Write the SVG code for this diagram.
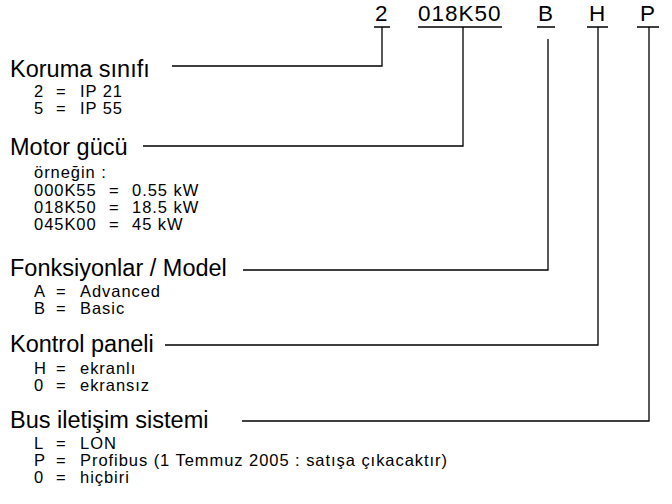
<svg xmlns="http://www.w3.org/2000/svg" width="672" height="504" viewBox="0 0 672 504">
<style>
text{font-family:"Liberation Sans",Arial,sans-serif;fill:#000}
.h{font-size:23.5px}
.c{font-size:22.5px;letter-spacing:1px}
.s{font-size:16.5px;letter-spacing:0.95px}
.ln{fill:none;stroke:#000;stroke-width:1.3}
</style>
<rect width="672" height="504" fill="#fff"/>
<g id="code">
<text class="c" x="375" y="21">2</text>
<text class="c" x="418" y="21">018K50</text>
<text class="c" x="538" y="21">B</text>
<text class="c" x="589" y="21">H</text>
<text class="c" x="640" y="21">P</text>
</g>
<g id="koruma">
<text class="h" x="10" y="77">Koruma sınıfı</text>
<text class="s" y="97"><tspan x="34">2</tspan><tspan x="56">=</tspan><tspan x="80">IP 21</tspan></text>
<text class="s" y="114"><tspan x="34">5</tspan><tspan x="56">=</tspan><tspan x="80">IP 55</tspan></text>
</g>
<g id="motor">
<text class="h" x="10" y="155">Motor gücü</text>
<text class="s" x="34" y="178">örneğin :</text>
<text class="s" y="196"><tspan x="34">000K55</tspan><tspan x="109">=</tspan><tspan x="132">0.55 kW</tspan></text>
<text class="s" y="213"><tspan x="34">018K50</tspan><tspan x="109">=</tspan><tspan x="132">18.5 kW</tspan></text>
<text class="s" y="230"><tspan x="34">045K00</tspan><tspan x="109">=</tspan><tspan x="132">45 kW</tspan></text>
</g>
<g id="model">
<text class="h" x="10" y="276">Fonksiyonlar / Model</text>
<text class="s" y="297"><tspan x="34">A</tspan><tspan x="56">=</tspan><tspan x="80">Advanced</tspan></text>
<text class="s" y="314"><tspan x="34">B</tspan><tspan x="56">=</tspan><tspan x="80">Basic</tspan></text>
</g>
<g id="kontrol">
<text class="h" x="10" y="352">Kontrol paneli</text>
<text class="s" y="374"><tspan x="34">H</tspan><tspan x="56">=</tspan><tspan x="80">ekranlı</tspan></text>
<text class="s" y="391"><tspan x="34">0</tspan><tspan x="56">=</tspan><tspan x="80">ekransız</tspan></text>
</g>
<g id="bus">
<text class="h" x="10" y="428">Bus iletişim sistemi</text>
<text class="s" y="449"><tspan x="34">L</tspan><tspan x="56">=</tspan><tspan x="80">LON</tspan></text>
<text class="s" y="466"><tspan x="34">P</tspan><tspan x="56">=</tspan><tspan x="80">Profibus (1 Temmuz 2005 : satışa çıkacaktır)</tspan></text>
<text class="s" y="483"><tspan x="34">0</tspan><tspan x="56">=</tspan><tspan x="80">hiçbiri</tspan></text>
</g>
<g id="connectors">
<path class="ln" d="M374 27H390M418 27H502M537 27H555M587 27H608M637 27H659"/>
<path class="ln" d="M172 66H382V27"/>
<path class="ln" d="M143 146H463V27"/>
<path class="ln" d="M243 270H548V39"/>
<path class="ln" d="M165 345H598V27"/>
<path class="ln" d="M242 421H649V27"/>
</g>
</svg>
